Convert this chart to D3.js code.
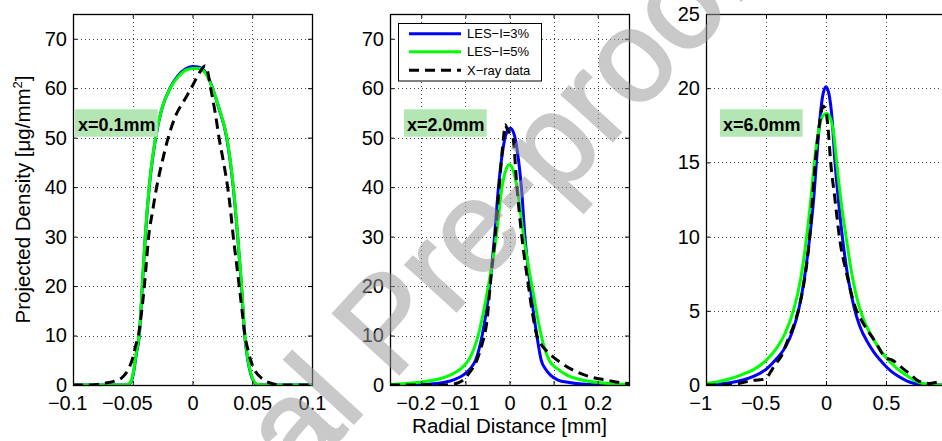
<!DOCTYPE html>
<html>
<head>
<meta charset="utf-8">
<script src="https://cdn.jsdelivr.net/npm/d3@7"></script>
<style>
  html, body { margin: 0; padding: 0; background: #fff; overflow: hidden; }
  svg { display: block; }
  text { font-family: "Liberation Sans", Arial, Helvetica, sans-serif; }
</style>
</head>
<body>
<svg id="chart" width="942" height="441"></svg>
<script>
// ---------------- Data ----------------
// Station x = 0.1 mm
const p1X      = [-0.1, -0.07, -0.056, -0.053, -0.051, -0.049, -0.047, -0.0445, -0.042, -0.0395, -0.0362, -0.0308, -0.026, -0.0188, -0.012, -0.006, 0, 0.005, 0.01, 0.0161, 0.022, 0.0286, 0.0341, 0.0378, 0.041, 0.0437, 0.0463, 0.049, 0.0515, 0.054, 0.06, 0.1];
const p1Les3   = [0, 0, 0, 0.2, 0.9, 3, 6.3, 10, 20, 30, 40, 50, 55.5, 60, 62.6, 63.9, 64.4, 64.3, 63.5, 60.5, 56, 50, 40, 30, 20, 10, 5, 2, 0.6, 0.1, 0, 0];
const p1Les5   = [0, 0, 0, 0.3, 1.1, 3.3, 6.6, 10.4, 20.3, 30.3, 40.3, 50.2, 55.6, 59.9, 62.3, 63.6, 64.0, 64.0, 63.3, 60.4, 56.1, 50.2, 40.3, 30.3, 20.4, 10.4, 5.3, 2.2, 0.7, 0.15, 0, 0];
const p1XrayX  = [-0.1, -0.085, -0.075, -0.065, -0.058, -0.053, -0.05, -0.0475, -0.0453, -0.0425, -0.0403, -0.0385, -0.0367, -0.0335, -0.030, -0.0255, -0.0203, -0.014, -0.007, 0, 0.006, 0.0105, 0.0125, 0.0152, 0.019, 0.0222, 0.026, 0.0294, 0.032, 0.0341, 0.0366, 0.0391, 0.0415, 0.0439, 0.0465, 0.0487, 0.052, 0.0551, 0.06, 0.065, 0.07, 0.08, 0.1];
const p1Xray   = [0, 0, 0.3, 0.8, 1.7, 3.5, 5.5, 8, 10, 15, 20, 25, 30, 35, 40, 45, 50, 54.5, 57.5, 60.5, 63.2, 64.5, 63.5, 60, 55, 50, 45, 40, 35, 30, 25, 20, 15, 10, 7, 5, 3, 2, 1, 0.4, 0.1, 0, 0];

// Station x = 2.0 mm
const p2Les3X  = [-0.271, -0.2, -0.15, -0.125, -0.105, -0.09, -0.077, -0.062, -0.045, -0.034, -0.025, -0.016, -0.008, 0.002, 0.011, 0.019, 0.027, 0.035, 0.047, 0.062, 0.072, 0.082, 0.093, 0.11, 0.135, 0.18, 0.271];
const p2Les3   = [0, 0.1, 0.5, 1.1, 2, 3.2, 5, 10, 20, 30, 40, 47, 50.7, 51.9, 50.5, 46.5, 40, 30, 20, 10, 5, 3.2, 2, 1, 0.5, 0.1, 0];
const p2Les5X  = [-0.271, -0.21, -0.16, -0.135, -0.11, -0.093, -0.071, -0.048, -0.03, -0.017, -0.008, 0, 0.008, 0.017, 0.032, 0.051, 0.072, 0.09, 0.11, 0.13, 0.16, 0.2, 0.271];
const p2Les5   = [0.1, 0.5, 1.2, 2, 3.3, 5, 10, 20, 30, 40, 43.5, 44.6, 43.5, 40, 30, 20, 10, 5, 3.2, 2, 1.1, 0.5, 0.1];
const p2XrayX  = [-0.271, -0.15, -0.125, -0.105, -0.09, -0.074, -0.063, -0.057, -0.051, -0.044, -0.0325, -0.0234, -0.0136, -0.01, -0.004, 0.0077, 0.0168, 0.028, 0.043, 0.053, 0.062, 0.072, 0.085, 0.1, 0.115, 0.14, 0.165, 0.19, 0.22, 0.25, 0.271];
const p2Xray   = [0, 0, 0.2, 1, 2.6, 5, 8, 10, 13, 20, 30, 40, 50, 52.6, 51.5, 50, 40, 30, 20, 14, 10, 8.2, 6.8, 5.6, 4.6, 3.2, 2.2, 1.5, 1.0, 0.5, 0.3];

// Station x = 6.0 mm
const p3Les3X  = [-1, -0.9, -0.8, -0.7, -0.6, -0.5, -0.42, -0.335, -0.28, -0.23, -0.18, -0.135, -0.1, -0.08, -0.05, -0.025, 0, 0.025, 0.05, 0.075, 0.103, 0.136, 0.178, 0.235, 0.28, 0.353, 0.4, 0.45, 0.5, 0.547, 0.6, 0.672, 0.75, 0.85, 1];
const p3Les3   = [0.02, 0.06, 0.15, 0.32, 0.6, 1.05, 1.7, 2.6, 3.6, 5, 7.2, 10, 12.8, 15, 18, 19.6, 20.1, 19.6, 18, 15, 12.5, 10, 7.5, 5.2, 4.0, 2.8, 2.2, 1.7, 1.25, 0.9, 0.6, 0.28, 0.08, 0.01, 0];
const p3Les5X  = [-1, -0.9, -0.8, -0.7, -0.6, -0.5, -0.41, -0.34, -0.272, -0.21, -0.161, -0.125, -0.097, -0.06, -0.03, 0.005, 0.035, 0.065, 0.089, 0.125, 0.167, 0.215, 0.276, 0.33, 0.394, 0.44, 0.49, 0.54, 0.59, 0.66, 0.73, 0.8, 0.88, 1];
const p3Les5   = [0.1, 0.22, 0.42, 0.7, 1.05, 1.65, 2.5, 3.5, 5, 7.2, 10, 12.6, 15, 17.2, 18.1, 18.3, 18.0, 16.9, 15, 12.4, 10, 7.5, 5.3, 4.1, 3.1, 2.5, 1.95, 1.5, 1.12, 0.7, 0.34, 0.12, 0.03, 0];
const p3XrayX  = [-1, -0.8, -0.7, -0.62, -0.55, -0.5, -0.46, -0.43, -0.369, -0.32, -0.27, -0.225, -0.185, -0.155, -0.13, -0.105, -0.078, -0.05, -0.025, -0.005, 0.015, 0.039, 0.075, 0.111, 0.172, 0.25, 0.3, 0.353, 0.42, 0.47, 0.506, 0.547, 0.6, 0.658, 0.7, 0.756, 0.82, 0.867, 0.935, 1];
const p3Xray   = [0, 0, 0.15, 0.3, 0.35, 0.45, 0.9, 1.3, 2.0, 3.0, 4.0, 5.2, 6.8, 8.5, 10.5, 13.4, 16, 17.8, 18.8, 18.6, 17.5, 15, 12.5, 10, 7.5, 5.1, 4.3, 3.6, 2.8, 2.1, 1.8, 1.7, 1.4, 1.0, 0.75, 0.34, 0.15, 0.1, 0.2, 0.1];

// Axis ticks
const p1XTicks = [-0.1, -0.05, 0, 0.05, 0.1];
const p2XTicks = [-0.2, -0.1, 0, 0.1, 0.2];
const p3XTicks = [-1, -0.5, 0, 0.5, 1];
const densTicks = [0, 10, 20, 30, 40, 50, 60, 70];
const p3YTicks = [0, 5, 10, 15, 20, 25];

const stationLabels = ["x=0.1mm", "x=2.0mm", "x=6.0mm"];
const seriesNames = ["LES\u2212I=3%", "LES\u2212I=5%", "X\u2212ray data"];
const yTitle = "Projected Density [\u03BCg/mm";
const xTitle = "Radial Distance [mm]";

// ---------------- Layout ----------------
const svg = d3.select("#chart");
const TOP = 14, BOTTOM = 385;
const FONT = "'Liberation Sans', Arial, Helvetica, sans-serif";
const styles = [
  { color: "#0000ff", dash: null },
  { color: "#00ff00", dash: null },
  { color: "#000000", dash: "10,6" }
];
const fmt = d3.format("");

const panels = [
  { left: 73,  right: 312, xDom: [-0.1, 0.1],     yDom: [0, 75], xTicks: p1XTicks, yTicks: densTicks,
    series: [[p1X, p1Les3], [p1X, p1Les5], [p1XrayX, p1Xray]], labelDx: 2 },
  { left: 390, right: 629, xDom: [-0.271, 0.271], yDom: [0, 75], xTicks: p2XTicks, yTicks: densTicks,
    series: [[p2Les3X, p2Les3], [p2Les5X, p2Les5], [p2XrayX, p2Xray]], labelDx: 14 },
  { left: 706, right: 946, xDom: [-1, 1],         yDom: [0, 25], xTicks: p3XTicks, yTicks: p3YTicks,
    series: [[p3Les3X, p3Les3], [p3Les5X, p3Les5], [p3XrayX, p3Xray]], labelDx: 14 }
];

svg.append("rect").attr("width", 942).attr("height", 441).attr("fill", "#fff");

panels.forEach((p, i) => {
  const x = d3.scaleLinear().domain(p.xDom).range([p.left, p.right]);
  const y = d3.scaleLinear().domain(p.yDom).range([BOTTOM, TOP]);
  const g = svg.append("g");

  const clipId = "clip" + i;
  g.append("clipPath").attr("id", clipId)
    .append("rect").attr("x", p.left).attr("y", TOP)
    .attr("width", p.right - p.left).attr("height", BOTTOM - TOP);

  // dotted grid
  const grid = g.append("g").attr("stroke", "#444").attr("stroke-width", 1)
    .attr("stroke-dasharray", "1,3");
  p.xTicks.filter(t => t > p.xDom[0] && t < p.xDom[1]).forEach(t => {
    grid.append("line").attr("x1", Math.round(x(t)) + 0.5).attr("x2", Math.round(x(t)) + 0.5)
      .attr("y1", TOP).attr("y2", BOTTOM);
  });
  p.yTicks.filter(t => t > p.yDom[0] && t < p.yDom[1]).forEach(t => {
    grid.append("line").attr("y1", Math.round(y(t)) + 0.5).attr("y2", Math.round(y(t)) + 0.5)
      .attr("x1", p.left).attr("x2", p.right);
  });

  // curves
  const line = d3.line().x(d => x(d[0])).y(d => y(d[1])).curve(d3.curveMonotoneX);
  const curves = g.append("g").attr("clip-path", `url(#${clipId})`);
  p.series.forEach((s, k) => {
    const pts = s[0].map((v, j) => [v, s[1][j]]);
    curves.append("path").datum(pts).attr("d", line)
      .attr("fill", "none").attr("stroke", styles[k].color).attr("stroke-width", 3)
      .attr("stroke-linejoin", "round")
      .attr("stroke-dasharray", styles[k].dash);
  });

  // axes with inward ticks on all four sides
  const tick = 4;
  const bottom = g.append("g").attr("transform", `translate(0,${BOTTOM})`)
    .call(d3.axisBottom(x).tickValues(p.xTicks).tickFormat(fmt).tickSizeInner(-tick).tickSizeOuter(0).tickPadding(11));
  const left = g.append("g").attr("transform", `translate(${p.left},0)`)
    .call(d3.axisLeft(y).tickValues(p.yTicks).tickFormat(fmt).tickSizeInner(-tick).tickSizeOuter(0).tickPadding(6));
  const top = g.append("g").attr("transform", `translate(0,${TOP})`)
    .call(d3.axisTop(x).tickValues(p.xTicks).tickFormat(() => "").tickSizeInner(-tick).tickSizeOuter(0));
  const right = g.append("g").attr("transform", `translate(${p.right},0)`)
    .call(d3.axisRight(y).tickValues(p.yTicks).tickFormat(() => "").tickSizeInner(-tick).tickSizeOuter(0));
  [bottom, left, top, right].forEach(a => {
    a.select(".domain").remove();
    a.selectAll("line").attr("stroke", "#000");
    a.selectAll("text").attr("font-size", 20).attr("fill", "#000").style("font-family", FONT);
  });

  // negative x labels: digits stay centred on the tick, the minus sign hangs to the left
  bottom.selectAll(".tick").each(function (d) {
    if (d >= 0) return;
    const t = d3.select(this).select("text");
    t.text(fmt(-d));
    const w = t.node().getComputedTextLength();
    d3.select(this).append("text")
      .attr("x", -w / 2).attr("y", t.attr("y")).attr("dy", t.attr("dy"))
      .attr("text-anchor", "end").attr("font-size", 20).attr("fill", "#000")
      .style("font-family", FONT)
      .text("\u2212");
  });

  // axes box
  g.append("rect").attr("x", p.left + 0.5).attr("y", TOP + 0.5)
    .attr("width", p.right - p.left).attr("height", BOTTOM - TOP)
    .attr("fill", "none").attr("stroke", "#000").attr("stroke-width", 1.3);

  // station tag
  const tx = p.left + p.labelDx;
  g.append("rect").attr("x", tx).attr("y", 109.3).attr("width", 82.7).attr("height", 27.4)
    .attr("fill", "#b3e6b3");
  g.append("text").attr("x", tx + 3).attr("y", 130.5)
    .attr("font-size", 18).attr("font-weight", "bold").attr("fill", "#000")
    .text(stationLabels[i]);
});

// axis titles
const yt = svg.append("text")
  .attr("transform", "translate(30,199.5) rotate(-90)")
  .attr("text-anchor", "middle").attr("font-size", 20.5).attr("fill", "#000");
yt.append("tspan").text(yTitle);
yt.append("tspan").attr("font-size", 13).attr("dy", -8).text("2");
yt.append("tspan").attr("dy", 8).text("]");

svg.append("text").attr("x", 509.5).attr("y", 433).attr("text-anchor", "middle")
  .attr("font-size", 20.5).attr("fill", "#000").text(xTitle);

// legend
const lg = svg.append("g");
lg.append("rect").attr("x", 398.5).attr("y", 23.5).attr("width", 143).attr("height", 57.5)
  .attr("fill", "#fff").attr("stroke", "#000").attr("stroke-width", 1);
[33.7, 51.7, 70.3].forEach((ly, k) => {
  lg.append("line").attr("x1", 409).attr("x2", 461).attr("y1", ly).attr("y2", ly)
    .attr("stroke", styles[k].color).attr("stroke-width", 3)
    .attr("stroke-dasharray", styles[k].dash);
  lg.append("text").attr("x", 467).attr("y", ly + 4.6).attr("font-size", 13).attr("fill", "#000")
    .text(seriesNames[k]);
});

// "Journal Pre-proof" stamp across the figure, pivoted on the stem of the "P"
svg.append("text")
  .attr("transform", "translate(399,374) rotate(-47.5) translate(-473,0)")
  .attr("font-size", 130).attr("fill", "#999").attr("stroke", "#999").attr("stroke-width", 2.5)
  .attr("opacity", 0.52)
  .text("Journal Pre-proof");
</script>
</body>
</html>
